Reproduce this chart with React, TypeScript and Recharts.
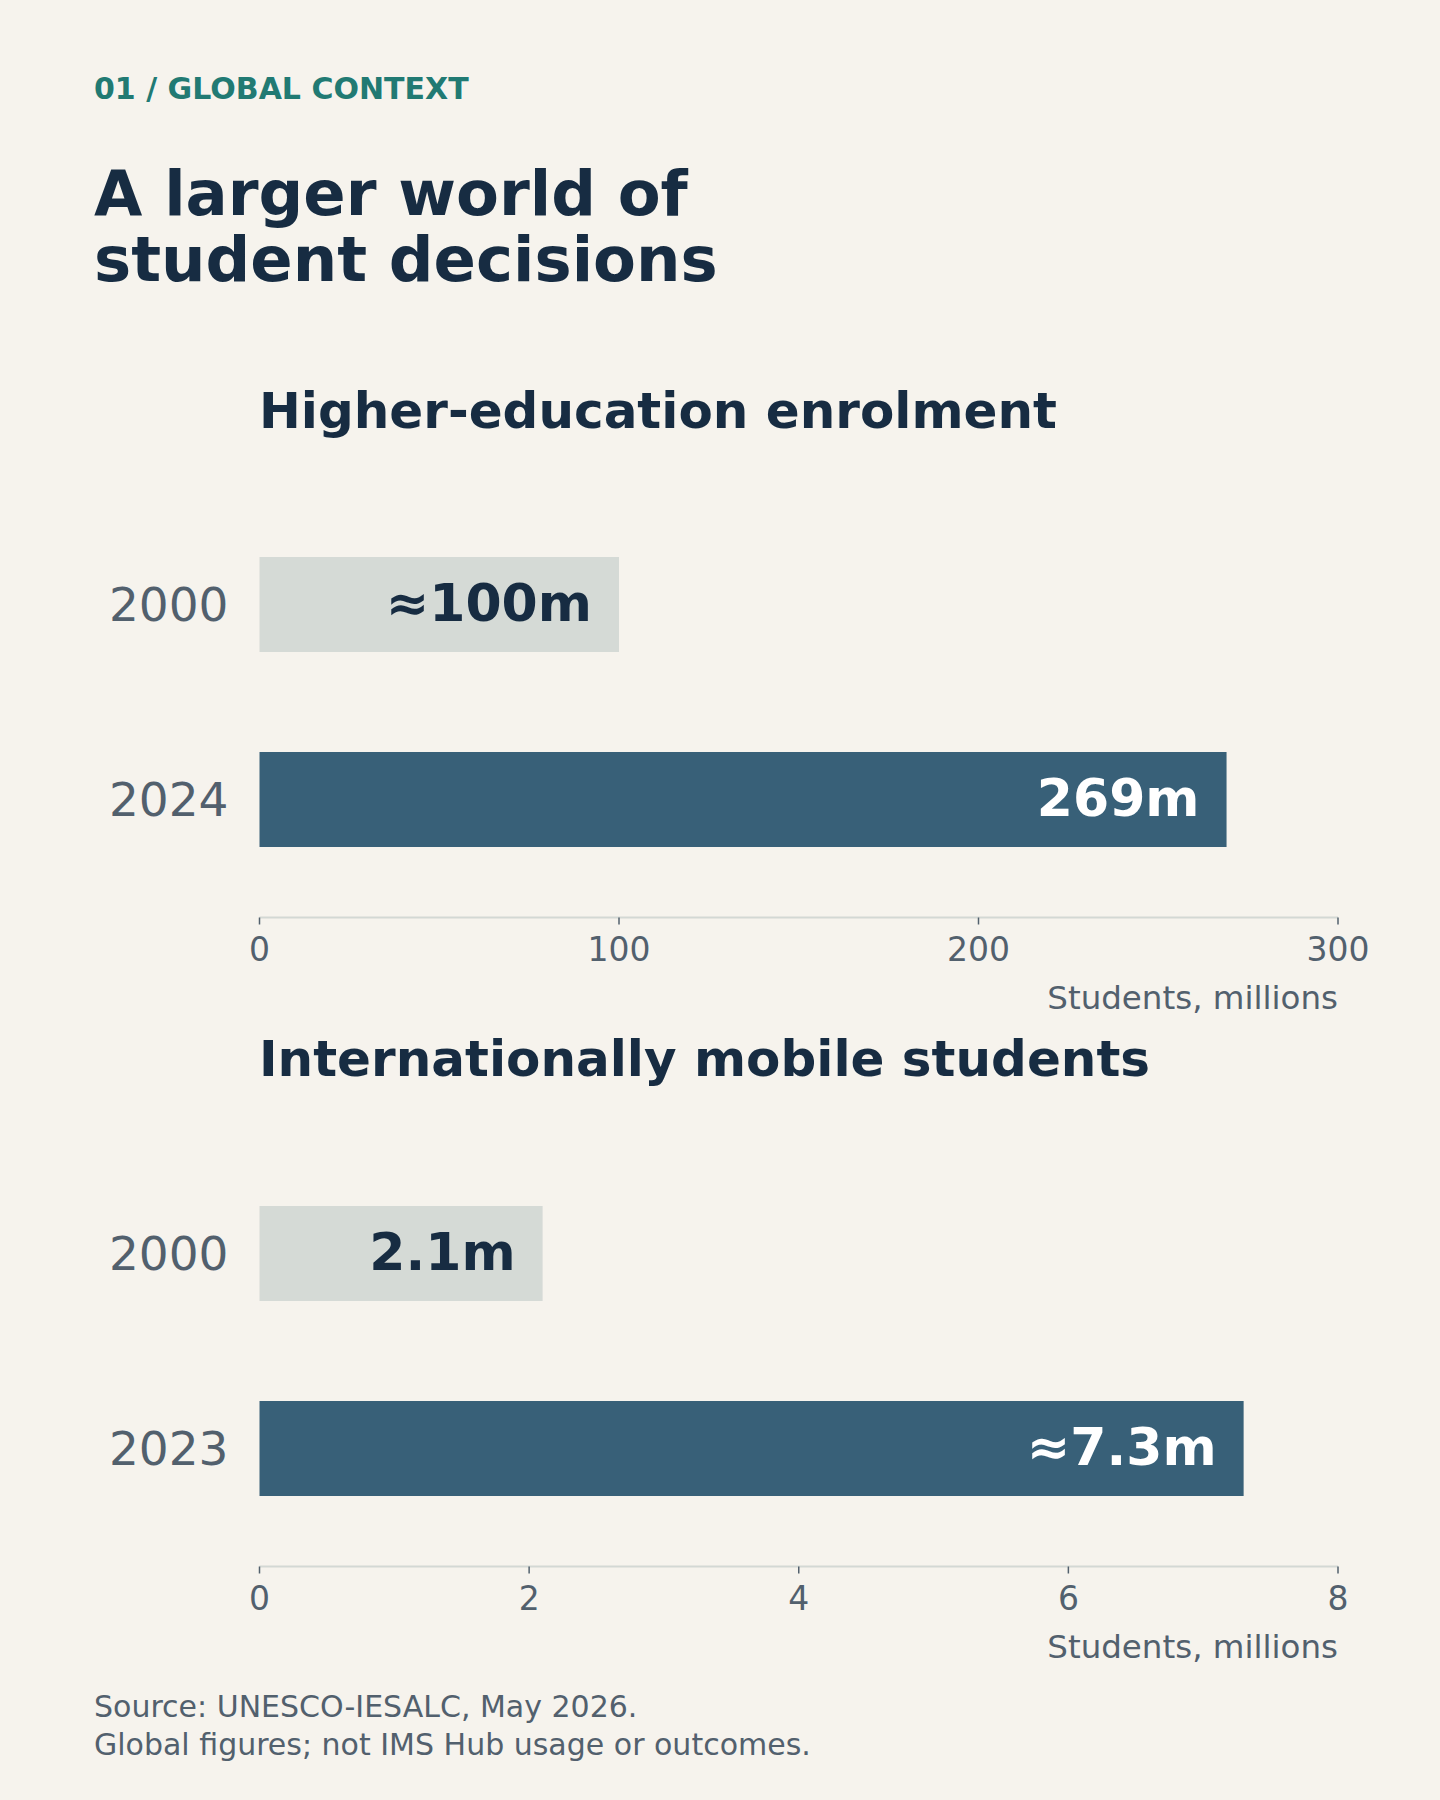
import React from 'react';
import { BarChart, Bar, XAxis, YAxis, Cell, LabelList } from 'recharts';

const FONT = '"DejaVu Sans", Verdana, sans-serif';

const HE_YEARS = ['2000', '2024'];
const HE_VALUES = [100, 269];
const HE_LABELS = ['≈100m', '269m'];
const HE_TICKS = [0, 100, 200, 300];

const MOB_YEARS = ['2000', '2023'];
const MOB_VALUES = [2.1, 7.3];
const MOB_LABELS = ['2.1m', '≈7.3m'];
const MOB_TICKS = [0, 2, 4, 6, 8];

const BAR_COLORS = ['#d5dad6', '#386078'];
const LABEL_COLORS = ['#172c42', '#ffffff'];

const NAVY = '#172c42';
const GREY = '#52606d';
const BG = '#f6f3ed';

interface PanelProps {
  top: number;
  title: string;
  years: string[];
  values: number[];
  labels: string[];
  ticks: number[];
}

const Panel: React.FC<PanelProps> = ({ top, title, years, values, labels, ticks }) => {
  const data = years.map((year, i) => ({ year, value: values[i], label: labels[i] }));

  const renderLabel = (props: any) => {
    const vb = props.viewBox || props;
    const { x, y, width, height } = vb;
    const i = props.index ?? labels.indexOf(props.value);
    return (
      <text
        x={x + width - 27}
        y={y + height / 2}
        dy={16}
        textAnchor="end"
        fill={LABEL_COLORS[i]}
        fontSize={52}
        fontWeight="bold"
        fontFamily={FONT}
      >
        {labels[i]}
      </text>
    );
  };

  return (
    <>
      {/* panel heading */}
      <div
        style={{
          position: 'absolute',
          left: 259,
          top: top - 94.5,
          fontSize: 50,
          lineHeight: '50px',
          fontWeight: 'bold',
          color: NAVY,
          whiteSpace: 'nowrap',
        }}
      >
        {title}
      </div>
      <div style={{ position: 'absolute', left: 0, top }}>
        <BarChart
          layout="vertical"
          width={1440}
          height={540}
          data={data}
          margin={{ top: 27, right: 102, bottom: 11.5, left: 0 }}
          style={{ fontFamily: FONT }}
        >
          <XAxis
            type="number"
            domain={[0, ticks[ticks.length - 1]]}
            ticks={ticks}
            height={91}
            tickSize={7}
            tickMargin={13}
            axisLine={{ stroke: '#d3d8d4', strokeWidth: 2 }}
            tickLine={{ stroke: GREY, strokeWidth: 1.5 }}
            tick={{ fill: GREY, fontSize: 33, fontFamily: FONT }}
            label={{
              value: 'Students, millions',
              position: 'insideBottomRight',
              offset: 0,
              fill: GREY,
              fontSize: 32.5,
              fontFamily: FONT,
            }}
          />
          <YAxis
            type="category"
            dataKey="year"
            width={259.5}
            tickSize={0}
            tickMargin={31}
            axisLine={false}
            tickLine={false}
            padding={{ top: 0, bottom: 20.5 }}
            tick={{ fill: GREY, fontSize: 47, fontFamily: FONT }}
          />
          <Bar dataKey="value" barSize={95} isAnimationActive={false}>
            {data.map((_, i) => (
              <Cell key={`cell-${i}`} fill={BAR_COLORS[i % BAR_COLORS.length]} />
            ))}
            <LabelList dataKey="label" content={renderLabel} />
          </Bar>
        </BarChart>
      </div>
    </>
  );
};

export default function App() {
  return (
    <div
      style={{
        position: 'absolute',
        left: 0,
        top: 0,
        width: 1440,
        height: 1800,
        background: BG,
        fontFamily: FONT,
        overflow: 'hidden',
      }}
    >
      <div
        style={{
          position: 'absolute',
          left: 94,
          top: 74,
          fontSize: 30,
          lineHeight: '30px',
          fontWeight: 'bold',
          color: '#217a73',
          whiteSpace: 'nowrap',
        }}
      >
        01 / GLOBAL CONTEXT
      </div>
      <div
        style={{
          position: 'absolute',
          left: 94,
          top: 161,
          fontSize: 62.5,
          lineHeight: '66px',
          fontWeight: 'bold',
          color: NAVY,
        }}
      >
        A larger world of
        <br />
        student decisions
      </div>

      <Panel
        top={480}
        title="Higher-education enrolment"
        years={HE_YEARS}
        values={HE_VALUES}
        labels={HE_LABELS}
        ticks={HE_TICKS}
      />
      <Panel
        top={1128.5}
        title="Internationally mobile students"
        years={MOB_YEARS}
        values={MOB_VALUES}
        labels={MOB_LABELS}
        ticks={MOB_TICKS}
      />

      {/* source note */}
      <div
        style={{
          position: 'absolute',
          left: 94,
          top: 1687.5,
          fontSize: 30,
          lineHeight: '38px',
          color: GREY,
          whiteSpace: 'nowrap',
        }}
      >
        Source: UNESCO-IESALC, May 2026.
        <br />
        Global figures; not IMS Hub usage or outcomes.
      </div>
    </div>
  );
}
